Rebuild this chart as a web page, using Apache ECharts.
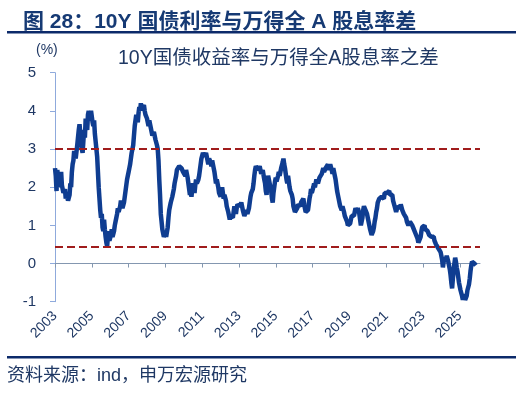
<!DOCTYPE html>
<html>
<head>
<meta charset="utf-8">
<script src="https://cdn.jsdelivr.net/npm/echarts@6/dist/echarts.min.js"></script>
<style>
html,body{margin:0;padding:0;background:#fff;}
#chart{width:532px;height:399px;}
</style>
</head>
<body>
<div id="chart"></div>
<script>
// 10Y国债收益率 - 万得全A股息率, 半月度, 单位%
var startYear = 2003;
var y2003 = [2.5, 2.3, 1.9, 2.45, 2.5, 2.1, 2.0, 2.3, 2.4, 2.05, 2.0, 1.85, 1.8, 1.95, 1.7, 1.85, 1.75, 1.65, 1.65, 1.8, 2.1, 2.0, 2.4, 2.6];
var y2004 = [2.7, 2.95, 3.0, 2.75, 2.8, 3.1, 3.3, 3.5, 3.65, 3.4, 3.2, 3.0, 2.9, 3.2, 3.5, 3.3, 3.8, 3.6, 3.5, 3.9, 4.0, 3.75, 3.7, 4.0];
var y2005 = [3.95, 3.7, 3.6, 3.75, 3.4, 3.2, 3.0, 2.8, 2.4, 2.0, 1.7, 1.4, 1.2, 1.3, 0.95, 0.85, 1.15, 0.9, 0.7, 0.55, 0.45, 0.7, 0.85, 0.6];
var y2006 = [0.6, 0.75, 0.9, 0.7, 0.65, 0.85, 1.0, 1.1, 1.2, 1.3, 1.45, 1.35, 1.3, 1.5, 1.65, 1.55, 1.45, 1.5, 1.6, 1.75, 1.9, 2.05, 2.2, 2.3];
var y2007 = [2.4, 2.5, 2.6, 2.75, 2.9, 3.0, 3.1, 3.35, 3.6, 3.75, 3.9, 3.8, 3.7, 3.95, 4.1, 4.0, 4.2, 4.05, 4.0, 4.1, 4.15, 4.0, 3.9, 3.95];
var y2008 = [3.8, 3.7, 3.6, 3.75, 3.7, 3.55, 3.5, 3.35, 3.3, 3.45, 3.4, 3.25, 3.2, 3.1, 3.0, 2.7, 2.2, 1.8, 1.3, 1.1, 0.9, 0.8, 0.7, 0.75];
var y2009 = [0.8, 0.7, 0.65, 0.95, 1.2, 1.4, 1.5, 1.6, 1.65, 1.75, 1.75, 1.95, 2.1, 2.2, 2.3, 2.45, 2.45, 2.5, 2.55, 2.6, 2.6, 2.5, 2.5, 2.4];
var y2010 = [2.45, 2.35, 2.3, 2.45, 2.4, 2.25, 2.1, 1.95, 1.8, 1.9, 1.75, 1.95, 2.1, 1.95, 1.85, 2.05, 2.2, 2.1, 2.05, 2.2, 2.3, 2.45, 2.6, 2.75];
var y2011 = [2.8, 2.9, 2.95, 2.8, 2.75, 2.9, 2.85, 2.7, 2.6, 2.75, 2.8, 2.65, 2.55, 2.7, 2.65, 2.5, 2.4, 2.25, 2.1, 2.2, 2.2, 2.0, 1.85, 1.8];
var y2012 = [1.75, 1.9, 2.0, 1.85, 1.7, 1.8, 1.85, 1.65, 1.5, 1.45, 1.35, 1.25, 1.15, 1.25, 1.3, 1.2, 1.2, 1.35, 1.5, 1.4, 1.3, 1.45, 1.55, 1.5];
var y2013 = [1.6, 1.5, 1.45, 1.6, 1.55, 1.4, 1.35, 1.25, 1.2, 1.3, 1.4, 1.3, 1.3, 1.45, 1.6, 1.75, 1.85, 1.8, 1.95, 2.1, 2.3, 2.45, 2.55, 2.5];
var y2014 = [2.6, 2.45, 2.4, 2.55, 2.5, 2.35, 2.3, 2.45, 2.4, 2.2, 2.1, 1.9, 1.8, 2.1, 2.3, 2.2, 2.1, 2.0, 1.9, 1.7, 1.6, 1.85, 2.0, 2.15];
var y2015 = [2.25, 2.15, 2.1, 2.3, 2.4, 2.3, 2.35, 2.5, 2.55, 2.65, 2.75, 2.6, 2.5, 2.35, 2.2, 2.1, 2.3, 2.15, 2.0, 1.9, 1.9, 1.8, 1.7, 1.5];
var y2016 = [1.55, 1.35, 1.3, 1.4, 1.45, 1.55, 1.6, 1.5, 1.5, 1.6, 1.65, 1.6, 1.7, 1.55, 1.45, 1.35, 1.3, 1.35, 1.4, 1.55, 1.7, 1.8, 1.95, 1.85];
var y2017 = [1.9, 2.0, 2.1, 2.0, 2.05, 2.2, 2.25, 2.1, 2.15, 2.25, 2.3, 2.2, 2.35, 2.4, 2.5, 2.4, 2.4, 2.5, 2.55, 2.5, 2.6, 2.45, 2.5, 2.6];
var y2018 = [2.6, 2.45, 2.35, 2.5, 2.45, 2.3, 2.2, 2.05, 1.9, 1.8, 1.7, 1.6, 1.5, 1.45, 1.4, 1.5, 1.5, 1.35, 1.25, 1.3, 1.2, 1.1, 1.0, 0.95];
var y2019 = [0.95, 1.05, 1.15, 1.25, 1.3, 1.2, 1.25, 1.35, 1.45, 1.4, 1.35, 1.45, 1.5, 1.3, 1.15, 1.0, 1.05, 1.2, 1.4, 1.5, 1.5, 1.4, 1.35, 1.3];
var y2020 = [1.2, 1.1, 1.0, 0.9, 0.85, 0.75, 0.75, 0.85, 0.95, 1.1, 1.2, 1.35, 1.45, 1.6, 1.6, 1.7, 1.7, 1.65, 1.75, 1.8, 1.8, 1.7, 1.85, 1.9];
var y2021 = [1.9, 1.85, 1.8, 1.9, 1.9, 1.8, 1.75, 1.85, 1.8, 1.65, 1.6, 1.5, 1.45, 1.35, 1.35, 1.5, 1.55, 1.45, 1.45, 1.55, 1.5, 1.4, 1.35, 1.3];
var y2022 = [1.3, 1.25, 1.2, 1.1, 1.1, 1.0, 1.0, 1.1, 1.15, 1.05, 1.0, 0.95, 0.9, 0.85, 0.8, 0.75, 0.75, 0.65, 0.55, 0.5, 0.6, 0.7, 0.85, 0.95];
var y2023 = [0.95, 1.0, 1.0, 0.9, 0.9, 0.85, 0.85, 0.8, 0.75, 0.7, 0.8, 0.7, 0.65, 0.7, 0.7, 0.6, 0.55, 0.5, 0.5, 0.45, 0.4, 0.35, 0.35, 0.3];
var y2024 = [0.3, 0.1, -0.1, 0.05, 0.15, 0.05, 0.1, 0.2, 0.2, 0.05, -0.05, -0.15, -0.3, -0.5, -0.65, -0.4, -0.2, 0.0, 0.15, 0.05, -0.1, -0.2, -0.35, -0.5];
var y2025 = [-0.6, -0.7, -0.75, -0.85, -0.95, -0.8, -0.85, -0.95, -1.0, -0.85, -0.7, -0.65, -0.55, -0.4, -0.2, -0.05, 0.05, 0.1, 0.1, 0.0, -0.05, -0.05];

var refLines = [3.0, 0.45];
var yearTicks = [2003, 2005, 2007, 2009, 2011, 2013, 2015, 2017, 2019, 2021, 2023, 2025];

var navy = '#1f3864';
var spread = [].concat(y2003, y2004, y2005, y2006, y2007, y2008, y2009, y2010, y2011, y2012,
	y2013, y2014, y2015, y2016, y2017, y2018, y2019, y2020, y2021, y2022, y2023, y2024, y2025);
var seriesData = spread.map(function(v, i){
	return [startYear + i / 24, v];
});

var myChart = echarts.init(document.getElementById('chart'));
var option = {
	animation: false,
	textStyle: { fontFamily: 'Liberation Sans, Noto Sans CJK SC' },
	title: [
		{
			text: '图 28：10Y 国债利率与万得全 A 股息率差',
			left: 18,
			top: 7,
			textStyle: { fontSize: 21, fontWeight: 'bold', color: '#163a74', fontFamily: 'Liberation Sans, Noto Sans CJK SC' }
		},
		{
			text: '10Y国债收益率与万得全A股息率之差',
			left: 113,
			top: 44,
			textStyle: { fontSize: 19.5, fontWeight: 'normal', color: navy, fontFamily: 'Liberation Sans, Noto Sans CJK SC' }
		}
	],
	graphic: [
		{ type: 'rect', shape: { x: 7, y: 31, width: 509, height: 2.5 }, style: { fill: '#0c2a6a' } },
		{ type: 'rect', shape: { x: 7, y: 356, width: 509, height: 2.5 }, style: { fill: '#0c2a6a' } },
		{ type: 'text', left: 7, top: 367, style: { text: '资料来源：ind，申万宏源研究', fontSize: 18, fill: navy, fontFamily: 'Liberation Sans, Noto Sans CJK SC' } },
		{ type: 'text', left: 36, top: 43, style: { text: '(%)', fontSize: 14, fill: navy, fontFamily: 'Liberation Sans' } }
	],
	grid: {
		left: 55,
		right: 52,
		top: 72.7,
		bottom: 97.3
	},
	xAxis: [
		{
			type: 'value',
			min: 2003,
			max: 2026.1,
			position: 'bottom',
			axisLine: { onZero: true, lineStyle: { color: '#8497b0', width: 1 } },
			axisTick: { show: true, length: 4, customValues: yearTicks, lineStyle: { color: '#8497b0' } },
			axisLabel: { show: false },
			splitLine: { show: false }
		},
		{
			type: 'value',
			min: 2003,
			max: 2026.1,
			position: 'bottom',
			axisLine: { show: false, onZero: false },
			axisTick: { show: false },
			axisLabel: {
				customValues: yearTicks,
				rotate: 45,
				margin: 12,
				fontSize: 14,
				color: navy,
				fontFamily: 'Liberation Sans',
				formatter: function(v){ return String(Math.round(v)); }
			},
			splitLine: { show: false }
		}
	],
	yAxis: {
		type: 'value',
		min: -1,
		max: 5,
		interval: 1,
		axisLine: { show: true, lineStyle: { color: '#8faadc', width: 1 } },
		axisTick: { show: true, length: 5, lineStyle: { color: '#8faadc' } },
		axisLabel: { margin: 19, fontSize: 15, color: navy, fontFamily: 'Liberation Sans' },
		splitLine: { show: false }
	},
	series: [
		{
			name: '10Y国债收益率与万得全A股息率之差',
			type: 'line',
			xAxisIndex: 0,
			showSymbol: false,
			symbol: 'none',
			lineStyle: { color: '#0f3d91', width: 4.5 },
			data: seriesData,
			markLine: {
				silent: true,
				symbol: 'none',
				label: { show: false },
				lineStyle: { color: '#a01c1c', width: 2, type: [8, 4] },
				data: refLines.map(function(v){ return { yAxis: v }; })
			},
			z: 3
		}
	]
};
myChart.setOption(option);
</script>
</body>
</html>
